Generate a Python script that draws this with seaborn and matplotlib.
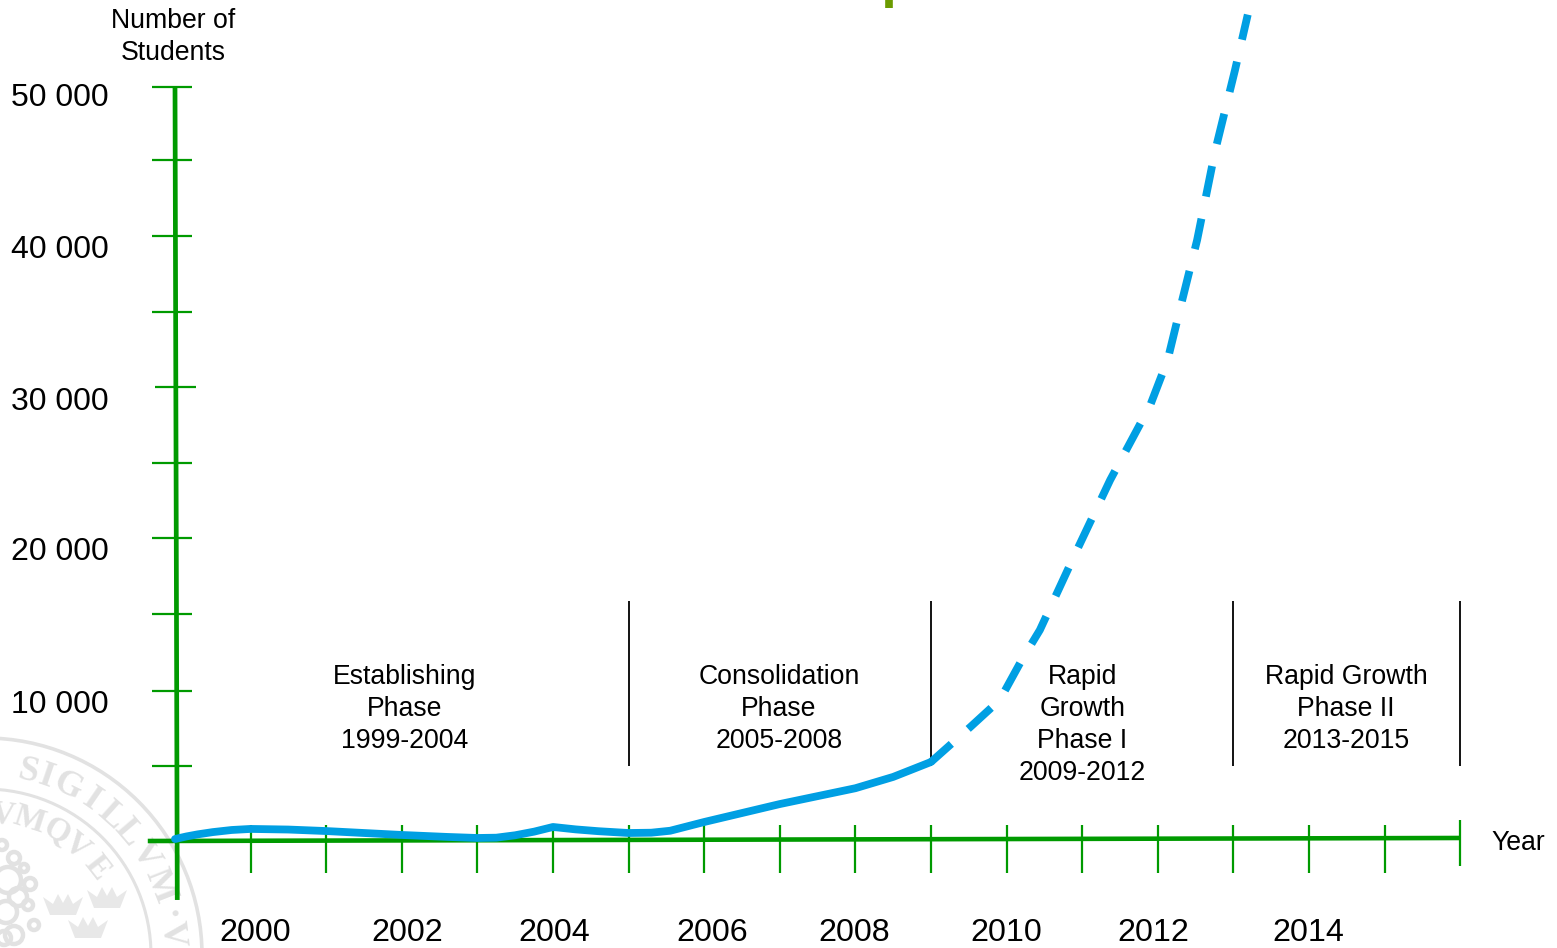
import numpy as np
import pandas as pd
import seaborn as sns
import matplotlib
matplotlib.use("Agg")
import matplotlib.pyplot as plt
from matplotlib.patches import Circle, Polygon

# Student numbers
solid_years = [1999, 1999.15, 1999.3, 1999.5, 1999.75, 2000, 2000.5, 2001, 2002, 2002.6, 2003, 2003.25, 2003.5, 2003.75, 2004, 2004.3, 2004.6, 2005, 2005.3, 2005.55, 2006, 2007, 2008, 2008.5, 2009]
solid_students = [130, 300, 440, 590, 730, 800, 760, 660, 400, 270, 200, 220, 380, 620, 930, 770, 650, 530, 550, 680, 1260, 2450, 3500, 4250, 5240]
proj_years = [2009, 2009.26, 2009.52, 2009.91, 2010.2, 2010.44, 2010.9, 2011.37, 2011.9, 2012.13, 2012.29, 2012.52, 2012.76, 2013.02, 2013.19]
proj_students = [5240, 6400, 7560, 9350, 12000, 13990, 18970, 23940, 28900, 31900, 35200, 39850, 45800, 51100, 54800]

x_minor = list(range(2000, 2016))
x_labels = [2000, 2002, 2004, 2006, 2008, 2010, 2012, 2014]
x_label_pos = [2000.06, 2002.07, 2004.02, 2006.11, 2007.98, 2009.99, 2011.94, 2013.99]
y_ticks = [4970, 9950, 15050, 20090, 25070, 35080, 40120, 45160, 50000]
y_tick_30k = 30100
y_labels = ["10 000", "20 000", "30 000", "40 000", "50 000"]
y_label_vals = [9030, 19180, 29130, 39200, 49300]

phase_edges = [2005, 2009, 2013, 2016]
phase_names = ["Establishing\nPhase\n1999-2004", "Consolidation\nPhase\n2005-2008",
               "Rapid\nGrowth\nPhase I\n2009-2012", "Rapid Growth\nPhase II\n2013-2015"]
phase_x = [2002.04, 2006.99, 2011.0, 2014.49]
phase_y = [8756, 8756, 7695, 8756]

GREEN = "#009a00"
BLUE = "#009fe3"
GREY = "#e2e2e2"

sns.set_theme(style="white")
plt.rcParams['font.family'] = ['Liberation Sans', 'DejaVu Sans']

fig = plt.figure(figsize=(15.57, 9.48), dpi=100)


def draw_seal(fig):
    # faint university seal behind the chart, laid out in pixels
    sx = fig.add_axes([0, 0, 1, 1], zorder=0)
    sx.set_xlim(0, 1557)
    sx.set_ylim(948, 0)
    sx.axis('off')
    cx, cy = -15, 955
    for r, lw in [(217, 2.6), (166, 2.2)]:
        sx.add_patch(Circle((cx, cy), r, fill=False, ec=GREY, lw=lw))
    outer = ["S", "I", "G", "I", "L", "L", "V", "M", "·", "V"]
    outer_ang = [13, 19, 26, 34.5, 42, 49.5, 58, 68.5, 78, 83.5]
    inner = ["V", "M", "Q", "V", "E"]
    inner_ang = [7, 18, 30, 40, 52]
    for letters, angles, r, size in [(outer, outer_ang, 188, 26), (inner, inner_ang, 142, 24)]:
        for c, a in zip(letters, angles):
            t = np.radians(a)
            sx.text(cx + r * np.sin(t), cy - r * np.cos(t), c, rotation=-a, color=GREY, fontsize=size,
                    family='Liberation Serif', weight='bold', ha='center', va='center', rotation_mode='anchor')
    # three crowns
    crown = np.array([[-20, -8], [-10, -1], [-5, -11], [0, -2], [5, -11], [10, -1], [20, -8], [13, 10], [-13, 10]])
    for px, py in [(63, 905), (107, 898), (88, 928)]:
        sx.add_patch(Polygon(crown + [px, py], fc='#e8e8e8', ec='none'))
    # rough figure on the left of the seal
    for px, py, r in [(8, 880, 13), (18, 897, 9), (6, 912, 11), (14, 858, 6), (30, 884, 6), (14, 935, 9), (2, 845, 5),
                      (28, 905, 5), (4, 938, 7), (24, 868, 4), (34, 925, 5)]:
        sx.add_patch(Circle((px, py), r, fill=False, ec=GREY, lw=3.2))


draw_seal(fig)

ax = fig.add_axes([0, 0, 1, 1], zorder=1)
ax.patch.set_alpha(0)
# axes map straight to the image: 75.6 px per year, 15.08 px per 1000 students
ax.set_xlim(1999 - 175 / 75.6, 1999 + (1557 - 175) / 75.6)
ax.set_ylim(-107 / 15.08 * 1000, 841 / 15.08 * 1000)

# axis lines (both lean slightly in the original)
ax.plot([1998.64, 2016], [0, 200], color=GREEN, lw=3.3, solid_capstyle='butt', zorder=2)
ax.plot([1999, 1999.03], [50000, -3910], color=GREEN, lw=3.4, solid_capstyle='butt', zorder=2)

# ticks
ax.vlines(x_minor, -2120, 1060, color=GREEN, lw=1.6, zorder=2)
ax.vlines(2016, -1660, 1390, color=GREEN, lw=1.6, zorder=2)
ax.hlines(y_ticks, 1998.70, 1999.22, color=GREEN, lw=1.6, zorder=2)
ax.hlines(y_tick_30k, 1998.74, 1999.28, color=GREEN, lw=1.6, zorder=2)

# phase dividers
ax.vlines(phase_edges, 5000, 15900, color='black', lw=1.3, zorder=2)

# small stray mark at the top edge
ax.vlines(2008.45, 55240, 56000, color='#6b9b00', lw=5.5, zorder=2)

# student curve
df_solid = pd.DataFrame({'year': solid_years, 'students': solid_students})
df_proj = pd.DataFrame({'year': proj_years, 'students': proj_students})
sns.lineplot(data=df_solid, x='year', y='students', ax=ax, color=BLUE, lw=5.6, sort=False, estimator=None, zorder=3)
sns.lineplot(data=df_proj, x='year', y='students', ax=ax, color=BLUE, lw=5.6, sort=False, estimator=None, zorder=3)
ax.lines[-1].set_linestyle((0.5, (4.0, 2.9)))
ax.lines[-1].set_dash_capstyle('butt')
ax.axis('off')

# tick labels
for yr, pos in zip(x_labels, x_label_pos):
    ax.text(pos, -6090, str(yr), fontsize=23.2, color='black', ha='center', va='center')
for lab, val in zip(y_labels, y_label_vals):
    ax.text(1998.12, val, lab, fontsize=23, color='black', ha='right', va='center')

for name, px, py in zip(phase_names, phase_x, phase_y):
    ax.text(px, py, name, fontsize=19.2, color='black', ha='center', va='center', linespacing=1.30)

ax.text(1998.98, 53325, "Number of\nStudents", fontsize=19.2, color='black', ha='center', va='center', linespacing=1.30)
ax.text(2016.41, -130, "Year", fontsize=19.2, color='black', ha='left', va='center')

fig.savefig('out.png', dpi=100)
plt.close(fig)
